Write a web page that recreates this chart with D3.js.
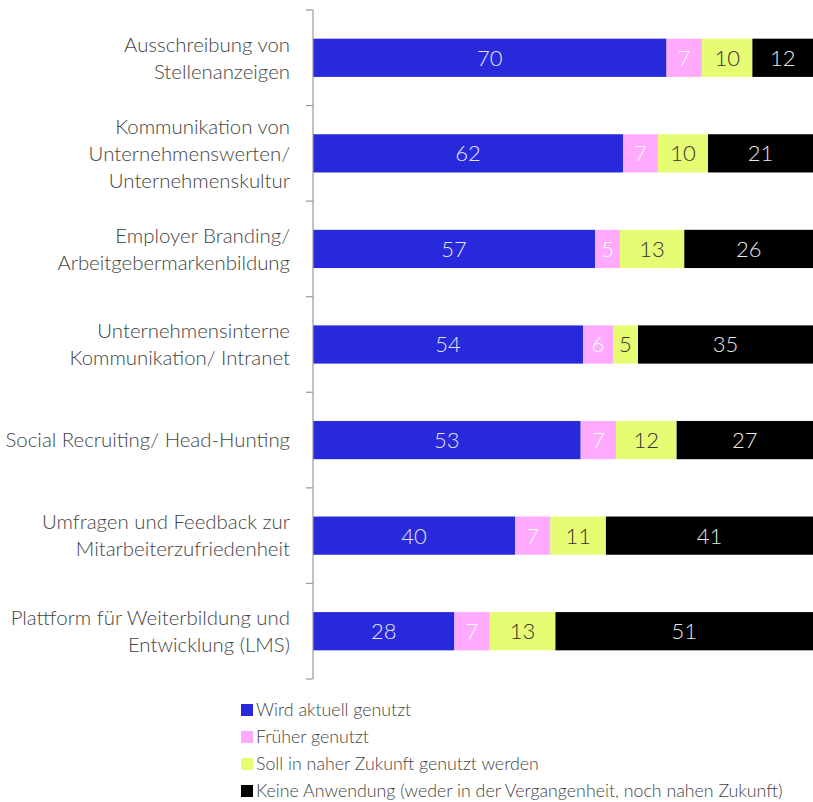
<!DOCTYPE html>
<html>
<head>
    <title>Nutzung</title>
    <style type="text/css">
        body { margin: 0; background: #fff; }
        svg text { font-family: Lato, "Open Sans", sans-serif; font-weight: 300; }
    </style>
</head>
<body>
    <script src="https://d3js.org/d3.v7.min.js" type="text/javascript"></script>
    <script type="text/javascript">

        var categories = [
            ['Ausschreibung von', 'Stellenanzeigen'],
            ['Kommunikation von', 'Unternehmenswerten/', 'Unternehmenskultur'],
            ['Employer Branding/', 'Arbeitgebermarkenbildung'],
            ['Unternehmensinterne', 'Kommunikation/ Intranet'],
            ['Social Recruiting/ Head-Hunting'],
            ['Umfragen und Feedback zur', 'Mitarbeiterzufriedenheit'],
            ['Plattform für Weiterbildung und', 'Entwicklung (LMS)']
        ];
        var seriesNames = [
            'Wird aktuell genutzt',
            'Früher genutzt',
            'Soll in naher Zukunft genutzt werden',
            'Keine Anwendung (weder in der Vergangenheit, noch nahen Zukunft)'
        ];
        var aktuell = [70, 62, 57, 54, 53, 40, 28];
        var frueher = [7, 7, 5, 6, 7, 7, 7];
        var zukunft = [10, 10, 13, 5, 12, 11, 13];
        var keine = [12, 21, 26, 35, 27, 41, 51];

        var colors = ['#2929dc', '#ffaaff', '#e6fc73', '#000000'];
        var labelColors = ['#e4e4f8', '#ffffff', '#333333', '#e8e8e8'];

        var width = 813, height = 802;
        var plotLeft = 313, plotRight = 813, plotTop = 10, plotBottom = 679;

        var svg = d3.select('body').append('svg')
            .attr('width', width)
            .attr('height', height);

        var rows = categories.map(function (c, i) {
            return { i: i, vals: [aktuell[i], frueher[i], zukunft[i], keine[i]] };
        });

        var y = d3.scaleBand()
            .domain(d3.range(categories.length))
            .range([plotTop, plotBottom])
            .paddingInner(0.6)
            .paddingOuter(0.3);
        var yOuter = d3.scaleBand()
            .domain(d3.range(categories.length))
            .range([plotTop, plotBottom]);

        // each row is stretched to the full width (share of its own total)
        rows.forEach(function (r) {
            var x = d3.scaleLinear().domain([0, d3.sum(r.vals)]).range([plotLeft, plotRight]);
            var acc = 0;
            var g = svg.append('g');
            r.vals.forEach(function (v, k) {
                var x0 = x(acc), x1 = x(acc + v);
                acc += v;
                g.append('rect')
                    .attr('x', x0)
                    .attr('y', y(r.i))
                    .attr('width', x1 - x0)
                    .attr('height', y.bandwidth())
                    .attr('fill', colors[k]);
                g.append('text')
                    .attr('x', (x0 + x1) / 2)
                    .attr('y', y(r.i) + y.bandwidth() / 2)
                    .attr('dy', '0.36em')
                    .attr('text-anchor', 'middle')
                    .attr('font-size', 22)
                    .attr('fill', labelColors[k])
                    .text(v);
            });
        });

        // axis line with ticks between categories
        var axis = svg.append('g').attr('stroke', '#999').attr('stroke-width', 1.2);
        axis.append('line')
            .attr('x1', plotLeft).attr('x2', plotLeft)
            .attr('y1', plotTop).attr('y2', plotBottom);
        d3.range(categories.length + 1).forEach(function (k) {
            var yy = plotTop + k * yOuter.step();
            axis.append('line')
                .attr('x1', plotLeft - 7).attr('x2', plotLeft)
                .attr('y1', yy).attr('y2', yy);
        });

        // category labels
        var lineH = 27;
        categories.forEach(function (lines, i) {
            var cy = y(i) + y.bandwidth() / 2;
            var t = svg.append('text')
                .attr('text-anchor', 'end')
                .attr('font-size', 20.4)
                .attr('fill', '#444');
            lines.forEach(function (s, j) {
                t.append('tspan')
                    .attr('x', 290)
                    .attr('y', cy + (j - (lines.length - 1) / 2) * lineH)
                    .attr('dy', '0.36em')
                    .text(s);
            });
        });

        // legend
        var legend = svg.append('g');
        seriesNames.forEach(function (s, k) {
            var ly = 710 + k * 27;
            legend.append('rect')
                .attr('x', 241).attr('y', ly - 6)
                .attr('width', 12).attr('height', 12)
                .attr('fill', colors[k]);
            legend.append('text')
                .attr('x', 256).attr('y', ly)
                .attr('dy', '0.36em')
                .attr('font-size', 17.8)
                .attr('fill', '#444')
                .text(s);
        });
    </script>
</body>
</html>
